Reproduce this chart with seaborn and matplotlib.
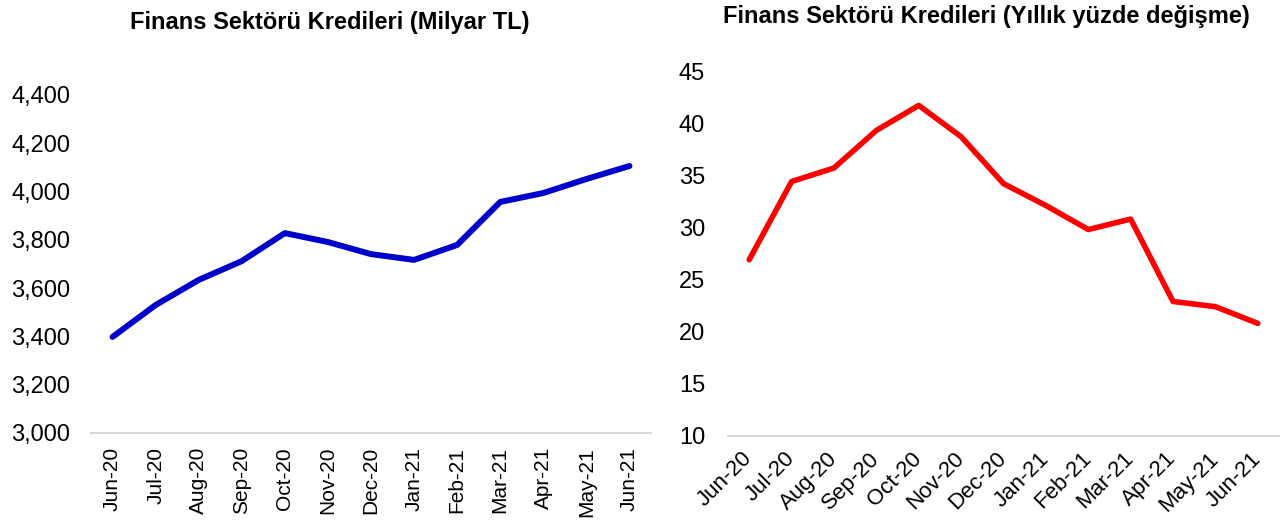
import matplotlib
matplotlib.use("Agg")
import matplotlib.pyplot as plt
import seaborn as sns
import pandas as pd
import numpy as np
from matplotlib.ticker import FuncFormatter, FixedLocator

months = ["Jun-20", "Jul-20", "Aug-20", "Sep-20", "Oct-20", "Nov-20", "Dec-20",
          "Jan-21", "Feb-21", "Mar-21", "Apr-21", "May-21", "Jun-21"]
credits_bn_tl = [3398, 3530, 3634, 3712, 3828, 3791, 3741, 3717, 3779, 3957, 3994, 4052, 4106]
credits_yoy = [26.9, 34.4, 35.7, 39.3, 41.7, 38.7, 34.2, 32.1, 29.8, 30.8, 22.9, 22.4, 20.8]

title_left = "Finans Sektörü Kredileri (Milyar TL)"
title_right = "Finans Sektörü Kredileri (Yıllık yüzde değişme)"

sns.set_theme(style="white")
plt.rcParams["font.family"] = ["Liberation Sans", "DejaVu Sans"]
plt.rcParams["text.color"] = "black"

df = pd.DataFrame({"month": months, "level": credits_bn_tl, "yoy": credits_yoy})
df["pos"] = np.arange(len(months))

fig = plt.figure(figsize=(12.84, 5.2), dpi=100)
ax1 = fig.add_axes([91/1284, 1-433/520, 560/1284, 338/520])
ax2 = fig.add_axes([728/1284, 1-436/520, 551/1284, 365/520])

sns.lineplot(data=df, x="pos", y="level", ax=ax1, color="#0000CC", linewidth=4.3)
sns.lineplot(data=df, x="pos", y="yoy", ax=ax2, color="#FF0000", linewidth=4.0)

grey = "#D9D9D9"
for ax in (ax1, ax2):
    ax.set_xlim(-0.5, len(months) - 0.5)
    for s in ("top", "right", "left"):
        ax.spines[s].set_visible(False)
    ax.spines["bottom"].set_color(grey)
    ax.spines["bottom"].set_linewidth(1.5)
    ax.set_xlabel("")
    ax.set_ylabel("")
    ax.grid(False)
    ax.tick_params(axis="y", labelsize=17, length=0, colors="black")

# left chart
ax1.set_ylim(3000, 4400)
ax1.set_yticks(np.arange(3000, 4401, 200))
ax1.yaxis.set_major_formatter(FuncFormatter(lambda v, p: f"{int(v):,}"))
ax1.tick_params(axis="y", pad=15)
ax1.set_xticks(df["pos"])
ax1.set_xticklabels(months, rotation=90, fontsize=15)
ax1.tick_params(axis="x", length=0, pad=10, colors="black")

# right chart
ax2.set_ylim(10, 45)
ax2.set_yticks(np.arange(10, 46, 5))
ax2.tick_params(axis="y", pad=16.5)
ax2.set_xticks(df["pos"])
ax2.set_xticklabels(months, rotation=45, ha="right", va="center",
                    rotation_mode="anchor", fontsize=16)
ax2.tick_params(axis="x", which="major", length=0, pad=14, colors="black")
ax2.xaxis.set_minor_locator(FixedLocator(np.arange(-0.5, len(months), 1.0)))
ax2.tick_params(axis="x", which="minor", length=7, width=1.5, color=grey, direction="out")

fig.text(330/1284, 1-23/520, title_left, fontsize=17, fontweight="bold",
         ha="center", va="center", color="black")
fig.text(986/1284, 1-17/520, title_right, fontsize=17, fontweight="bold",
         ha="center", va="center", color="black")

fig.savefig("out.png", dpi=100, facecolor="white")
